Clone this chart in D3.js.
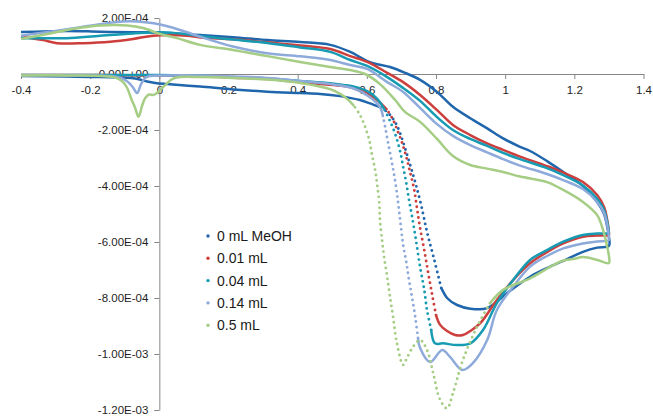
<!DOCTYPE html>
<html>
<head>
<meta charset="utf-8">
<script src="https://cdn.jsdelivr.net/npm/d3@7"></script>
<style>
  body { margin: 0; background: #fff; }
  svg text { font-family: "Liberation Sans", Arial, sans-serif; }
</style>
</head>
<body>
<svg id="chart" width="653" height="416"></svg>
<script>
// tick labels
const xTicks = [-0.4, -0.2, 0, 0.2, 0.4, 0.6, 0.8, 1, 1.2, 1.4];
const yTicks = [2e-4, 0, -2e-4, -4e-4, -6e-4, -8e-4, -1e-3, -1.2e-3];

const seriesNames = ["0 mL MeOH", "0.01 mL", "0.04 mL", "0.14 mL", "0.5 mL"];
const seriesColors = ["#1f66ac", "#cc3f3c", "#169bb2", "#8eaadb", "#a5cd84"];

// each scan: forward (upper), reverse, fast part (sparse dots), tail back to -0.4 V
// [potential V, current A]
const meoh0Fwd = [[-0.400,1.50e-4],[-0.267,1.54e-4],[-0.171,1.51e-4],[-0.076,1.49e-4],[0.002,1.48e-4],[0.080,1.42e-4],[0.118,1.39e-4],[0.213,1.31e-4],[0.312,1.21e-4],[0.407,1.14e-4],[0.494,1.04e-4],[0.552,0.79e-4],[0.607,0.43e-4],[0.667,0.25e-4],[0.711,0.04e-4],[0.754,-0.21e-4],[0.803,-0.64e-4],[0.849,-1.17e-4],[0.899,-1.58e-4],[0.948,-1.94e-4],[0.994,-2.30e-4],[1.043,-2.60e-4],[1.072,-2.75e-4],[1.121,-3.11e-4],[1.168,-3.50e-4],[1.225,-4.00e-4],[1.266,-4.57e-4],[1.286,-5.00e-4],[1.294,-5.39e-4],[1.300,-5.82e-4]];
const meoh0Rev = [[1.300,-6.14e-4],[1.266,-6.20e-4],[1.225,-6.35e-4],[1.179,-6.61e-4],[1.130,-6.88e-4],[1.072,-7.24e-4],[1.006,-7.82e-4],[0.948,-8.36e-4],[0.899,-8.38e-4],[0.861,-8.25e-4],[0.832,-8.00e-4],[0.815,-7.64e-4]];
const meoh0Steep = [[0.795,-6.64e-4],[0.774,-5.64e-4],[0.757,-4.68e-4],[0.742,-3.96e-4],[0.728,-3.36e-4],[0.714,-2.79e-4],[0.699,-2.21e-4],[0.685,-1.79e-4],[0.667,-1.46e-4]];
const meoh0Tail = [[0.644,-1.21e-4],[0.607,-1.04e-4],[0.580,-0.93e-4],[0.523,-0.79e-4],[0.465,-0.71e-4],[0.407,-0.68e-4],[0.312,-0.63e-4],[0.213,-0.55e-4],[0.118,-0.45e-4],[0.022,-0.36e-4],[-0.012,-0.32e-4],[-0.035,-0.27e-4],[-0.070,-0.16e-4],[-0.171,-0.11e-4],[-0.267,-0.09e-4],[-0.400,-0.07e-4]];

const meoh001Fwd = [[-0.400,1.33e-4],[-0.336,1.21e-4],[-0.296,1.10e-4],[-0.220,1.10e-4],[-0.142,1.15e-4],[-0.076,1.25e-4],[-0.018,1.37e-4],[0.080,1.37e-4],[0.118,1.30e-4],[0.213,1.24e-4],[0.312,1.13e-4],[0.407,1.02e-4],[0.494,0.89e-4],[0.552,0.64e-4],[0.601,0.43e-4],[0.659,0.04e-4],[0.705,-0.29e-4],[0.754,-0.75e-4],[0.803,-1.29e-4],[0.849,-1.82e-4],[0.899,-2.18e-4],[0.948,-2.48e-4],[0.994,-2.71e-4],[1.043,-2.95e-4],[1.121,-3.29e-4],[1.168,-3.52e-4],[1.225,-3.86e-4],[1.266,-4.32e-4],[1.286,-4.75e-4],[1.294,-5.14e-4],[1.300,-5.68e-4]];
const meoh001Rev = [[1.300,-5.75e-4],[1.266,-5.77e-4],[1.225,-5.81e-4],[1.168,-6.05e-4],[1.121,-6.36e-4],[1.072,-6.76e-4],[1.023,-7.36e-4],[0.976,-8.07e-4],[0.928,-8.90e-4],[0.899,-9.18e-4],[0.878,-9.32e-4],[0.855,-9.32e-4],[0.832,-9.18e-4],[0.812,-8.96e-4],[0.800,-8.61e-4]];
const meoh001Steep = [[0.789,-7.89e-4],[0.777,-7.07e-4],[0.766,-6.29e-4],[0.754,-5.50e-4],[0.745,-4.79e-4],[0.737,-4.14e-4],[0.725,-3.50e-4],[0.714,-2.96e-4],[0.702,-2.46e-4],[0.690,-2.07e-4],[0.676,-1.64e-4]];
const meoh001Tail = [[0.659,-1.29e-4],[0.630,-0.93e-4],[0.601,-0.68e-4],[0.566,-0.52e-4],[0.532,-0.43e-4],[0.465,-0.36e-4],[0.407,-0.29e-4],[0.312,-0.18e-4],[0.213,-0.13e-4],[0.118,-0.07e-4],[0.002,-0.05e-4],[-0.171,-0.04e-4],[-0.400,-0.04e-4]];

const meoh004Fwd = [[-0.400,1.28e-4],[-0.336,1.28e-4],[-0.267,1.28e-4],[-0.171,1.37e-4],[-0.076,1.45e-4],[0.002,1.49e-4],[0.080,1.42e-4],[0.118,1.36e-4],[0.213,1.23e-4],[0.312,1.11e-4],[0.407,0.95e-4],[0.494,0.79e-4],[0.552,0.50e-4],[0.601,0.29e-4],[0.659,-0.11e-4],[0.705,-0.50e-4],[0.754,-0.96e-4],[0.803,-1.54e-4],[0.849,-2.00e-4],[0.899,-2.32e-4],[0.948,-2.57e-4],[0.994,-2.82e-4],[1.043,-3.04e-4],[1.121,-3.36e-4],[1.168,-3.61e-4],[1.225,-3.98e-4],[1.266,-4.46e-4],[1.286,-4.86e-4],[1.294,-5.21e-4],[1.300,-5.68e-4]];
const meoh004Rev = [[1.300,-5.69e-4],[1.266,-5.70e-4],[1.225,-5.75e-4],[1.168,-5.99e-4],[1.121,-6.29e-4],[1.072,-6.64e-4],[1.023,-7.36e-4],[0.976,-8.18e-4],[0.936,-9.14e-4],[0.899,-9.62e-4],[0.861,-9.68e-4],[0.820,-9.62e-4],[0.797,-9.62e-4],[0.786,-9.14e-4]];
const meoh004Steep = [[0.774,-8.43e-4],[0.766,-7.71e-4],[0.754,-6.89e-4],[0.742,-5.93e-4],[0.731,-5.11e-4],[0.722,-4.50e-4],[0.714,-3.89e-4],[0.705,-3.32e-4],[0.696,-2.75e-4],[0.682,-2.14e-4],[0.667,-1.68e-4]];
const meoh004Tail = [[0.650,-1.25e-4],[0.630,-0.89e-4],[0.601,-0.61e-4],[0.566,-0.46e-4],[0.532,-0.39e-4],[0.494,-0.33e-4],[0.407,-0.25e-4],[0.312,-0.16e-4],[0.213,-0.11e-4],[0.118,-0.05e-4],[0.002,-0.04e-4],[-0.171,-0.04e-4],[-0.400,-0.04e-4]];

const meoh014Fwd = [[-0.400,1.37e-4],[-0.316,1.51e-4],[-0.238,1.65e-4],[-0.171,1.78e-4],[-0.122,1.86e-4],[-0.085,1.88e-4],[-0.035,1.84e-4],[0.002,1.77e-4],[0.031,1.68e-4],[0.080,1.49e-4],[0.118,1.33e-4],[0.213,0.98e-4],[0.312,0.74e-4],[0.407,0.63e-4],[0.494,0.50e-4],[0.552,0.32e-4],[0.601,0.18e-4],[0.659,-0.29e-4],[0.705,-0.64e-4],[0.754,-1.21e-4],[0.803,-1.79e-4],[0.849,-2.21e-4],[0.899,-2.54e-4],[0.948,-2.80e-4],[0.994,-3.04e-4],[1.043,-3.27e-4],[1.121,-3.57e-4],[1.168,-3.79e-4],[1.225,-4.11e-4],[1.266,-4.57e-4],[1.286,-4.96e-4],[1.294,-5.32e-4],[1.300,-5.82e-4]];
const meoh014Rev = [[1.300,-5.93e-4],[1.266,-5.98e-4],[1.225,-6.05e-4],[1.168,-6.23e-4],[1.121,-6.50e-4],[1.072,-6.88e-4],[1.023,-7.60e-4],[0.976,-8.43e-4],[0.948,-9.50e-4],[0.907,-1.032e-3],[0.876,-1.057e-3],[0.841,-1.011e-3],[0.818,-9.86e-4],[0.783,-1.029e-3],[0.754,-9.79e-4],[0.748,-9.43e-4]];
const meoh014Steep = [[0.740,-8.68e-4],[0.731,-8.00e-4],[0.722,-7.36e-4],[0.714,-6.71e-4],[0.705,-6.11e-4],[0.699,-5.50e-4],[0.693,-4.86e-4],[0.687,-4.25e-4],[0.679,-3.61e-4],[0.670,-3.00e-4],[0.661,-2.43e-4],[0.653,-1.89e-4]];
const meoh014Tail = [[0.647,-1.54e-4],[0.638,-1.18e-4],[0.607,-0.81e-4],[0.560,-0.51e-4],[0.494,-0.36e-4],[0.407,-0.25e-4],[0.312,-0.14e-4],[0.213,-0.09e-4],[0.118,-0.05e-4],[0.017,-0.05e-4],[-0.027,-0.07e-4],[-0.041,-0.14e-4],[-0.053,-0.36e-4],[-0.064,-0.68e-4],[-0.076,-0.48e-4],[-0.090,-0.29e-4],[-0.111,-0.14e-4],[-0.142,-0.07e-4],[-0.267,-0.05e-4],[-0.400,-0.05e-4]];

const meoh05Fwd = [[-0.400,1.25e-4],[-0.316,1.45e-4],[-0.238,1.63e-4],[-0.171,1.73e-4],[-0.093,1.73e-4],[-0.047,1.64e-4],[0.002,1.43e-4],[0.051,1.28e-4],[0.118,1.04e-4],[0.213,0.86e-4],[0.312,0.64e-4],[0.407,0.43e-4],[0.494,0.25e-4],[0.552,0.14e-4],[0.595,0.00],[0.638,-0.36e-4],[0.682,-0.93e-4],[0.711,-1.36e-4],[0.754,-1.71e-4],[0.803,-2.32e-4],[0.849,-2.93e-4],[0.899,-3.25e-4],[0.948,-3.38e-4],[0.994,-3.50e-4],[1.043,-3.66e-4],[1.121,-3.86e-4],[1.168,-4.14e-4],[1.225,-4.57e-4],[1.266,-5.04e-4],[1.283,-5.57e-4],[1.294,-6.11e-4],[1.300,-6.50e-4]];
const meoh05Rev = [[1.300,-6.75e-4],[1.266,-6.64e-4],[1.225,-6.54e-4],[1.197,-6.61e-4],[1.168,-6.66e-4],[1.130,-6.89e-4],[1.072,-7.30e-4],[0.994,-7.71e-4],[0.956,-8.19e-4]];
const meoh05Steep = [[0.919,-9.02e-4],[0.878,-1.021e-3],[0.849,-1.140e-3],[0.832,-1.194e-3],[0.812,-1.164e-3],[0.792,-1.069e-3],[0.774,-9.86e-4],[0.754,-9.50e-4],[0.734,-9.74e-4],[0.716,-1.014e-3],[0.705,-1.039e-3],[0.687,-9.62e-4],[0.676,-8.68e-4],[0.667,-7.96e-4],[0.659,-7.25e-4],[0.650,-6.54e-4],[0.644,-5.93e-4],[0.638,-5.21e-4],[0.636,-4.61e-4],[0.630,-3.96e-4],[0.624,-3.43e-4],[0.615,-2.89e-4],[0.607,-2.36e-4],[0.595,-1.89e-4],[0.580,-1.46e-4]];
const meoh05Tail = [[0.563,-1.14e-4],[0.543,-0.89e-4],[0.523,-0.71e-4],[0.494,-0.54e-4],[0.407,-0.32e-4],[0.312,-0.20e-4],[0.213,-0.14e-4],[0.118,-0.11e-4],[0.060,-0.11e-4],[0.037,-0.18e-4],[0.020,-0.36e-4],[0.005,-0.54e-4],[-0.007,-0.68e-4],[-0.018,-0.75e-4],[-0.030,-0.73e-4],[-0.041,-0.86e-4],[-0.050,-1.14e-4],[-0.060,-1.53e-4],[-0.070,-1.21e-4],[-0.081,-0.89e-4],[-0.093,-0.50e-4],[-0.108,-0.25e-4],[-0.134,-0.11e-4],[-0.267,-0.05e-4],[-0.400,-0.05e-4]];

const series = [
  {fwd: meoh0Fwd, rev: meoh0Rev, steep: meoh0Steep, tail: meoh0Tail},
  {fwd: meoh001Fwd, rev: meoh001Rev, steep: meoh001Steep, tail: meoh001Tail},
  {fwd: meoh004Fwd, rev: meoh004Rev, steep: meoh004Steep, tail: meoh004Tail},
  {fwd: meoh014Fwd, rev: meoh014Rev, steep: meoh014Steep, tail: meoh014Tail},
  {fwd: meoh05Fwd, rev: meoh05Rev, steep: meoh05Steep, tail: meoh05Tail}
];

const svg = d3.select("#chart");

const x = d3.scaleLinear().domain([-0.4, 1.4]).range([21, 643.5]);
const y = d3.scaleLinear().domain([-1.2e-3, 2e-4]).range([410, 18]);

// 2.00E-04 style labels
function sci(d) {
  const parts = d.toExponential(2).split("e");
  const exp = parts[1];
  return parts[0] + "E" + exp[0] + exp.slice(1).padStart(2, "0");
}

const axisColor = "#878787";

const gx = svg.append("g")
  .attr("transform", `translate(0,${y(0)})`)
  .call(d3.axisBottom(x).tickValues(xTicks).tickSize(5).tickSizeOuter(0).tickPadding(7)
    .tickFormat(d => String(+d.toFixed(1))));

const gy = svg.append("g")
  .attr("transform", `translate(${x(0)},0)`)
  .call(d3.axisLeft(y).tickValues(yTicks).tickSize(5).tickSizeOuter(0).tickPadding(6)
    .tickFormat(sci));

[gx, gy].forEach(g => {
  g.select(".domain").attr("stroke", axisColor);
  g.selectAll(".tick line").attr("stroke", axisColor);
  g.selectAll(".tick text").attr("fill", "#1e1e1e").style("font-size", "11.5px");
});

const line = d3.line()
  .x(d => x(d[0]))
  .y(d => y(d[1]))
  .curve(d3.curveCatmullRom.alpha(0.5));

series.forEach((s, i) => {
  const g = svg.append("g");
  const c = seriesColors[i];
  // dense parts look like a solid line of markers
  g.append("path")
    .attr("d", line(s.fwd.concat(s.rev)))
    .attr("fill", "none").attr("stroke", c).attr("stroke-width", 2.5);
  // fast part: markers spread apart
  const fast = [s.rev[s.rev.length - 1]].concat(s.steep, [s.tail[0]]);
  g.append("path")
    .attr("d", line(fast))
    .attr("fill", "none").attr("stroke", c).attr("stroke-width", 2.9)
    .attr("stroke-linecap", "round").attr("stroke-dasharray", "0 5.5");
  g.append("path")
    .attr("d", line(s.tail))
    .attr("fill", "none").attr("stroke", c).attr("stroke-width", 2.5);
});

// legend
const legend = svg.append("g").attr("transform", "translate(208,236)");
seriesNames.forEach((name, i) => {
  const row = legend.append("g").attr("transform", `translate(0,${i * 22.3})`);
  row.append("circle").attr("r", 1.7).attr("fill", seriesColors[i]);
  row.append("text")
    .attr("x", 9).attr("dy", "0.35em")
    .style("font-size", "14px").attr("fill", "#1a1a1a")
    .text(name);
});
</script>
</body>
</html>
